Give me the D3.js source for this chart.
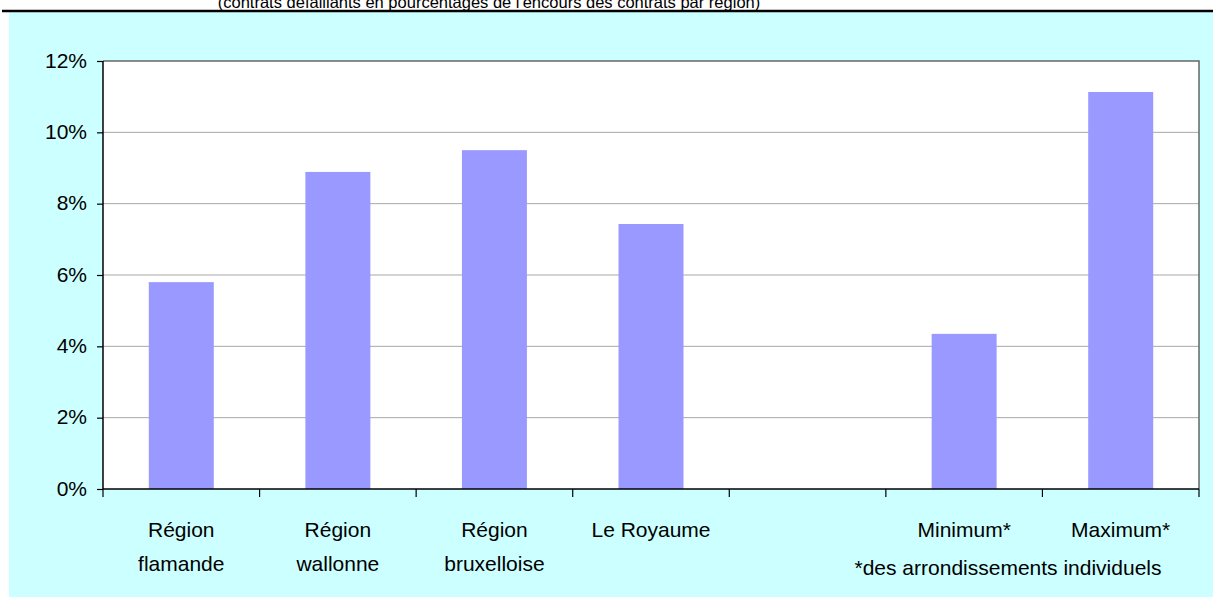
<!DOCTYPE html>
<html>
<head>
<meta charset="utf-8">
<title>Contrats défaillants par région</title>
<style>
body {
	margin: 0;
	background: #ffffff;
}
svg text {
	font-family: "Liberation Sans", Arial, sans-serif;
	fill: #000;
}
</style>
<script src="https://cdn.jsdelivr.net/npm/d3@7"></script>
</head>
<body>
<div id="chart"></div>
<script>
	// données
	var categories = ["flamande", "wallonne", "bruxelloise", "royaume", "vide", "minimum", "maximum"];
	var labelLines = [["Région", "flamande"], ["Région", "wallonne"], ["Région", "bruxelloise"], ["Le Royaume"], [], ["Minimum*"], ["Maximum*"]];
	var values = [5.8, 8.89, 9.5, 7.43, null, 4.35, 11.13];
	var yTicks = [0, 2, 4, 6, 8, 10, 12];

	var title = "(contrats défaillants en pourcentages de l'encours des contrats par région)";
	var footnote = "*des arrondissements individuels";

	var W = 1213, H = 597;
	var plot = {left: 103, right: 1199, top: 61, bottom: 489};

	var svg = d3.select("#chart").append("svg")
		.attr("width", W)
		.attr("height", H);

	// titre coupé en haut
	svg.append("text")
		.attr("x", 489)
		.attr("y", 8)
		.attr("text-anchor", "middle")
		.style("font-size", "16.5px")
		.text(title);

	svg.append("rect")
		.attr("x", 9).attr("y", 12)
		.attr("width", W - 9).attr("height", H - 12)
		.attr("fill", "#ccffff");

	svg.append("line")
		.attr("x1", 2).attr("x2", W)
		.attr("y1", 11).attr("y2", 11)
		.attr("stroke", "#000")
		.attr("stroke-width", 2.5);

	var x = d3.scaleBand()
		.domain(categories)
		.range([plot.left, plot.right])
		.paddingInner(0.585)
		.paddingOuter(0.2925);

	var y = d3.scaleLinear()
		.domain([0, 12])
		.range([plot.bottom, plot.top]);

	svg.append("rect")
		.attr("x", plot.left).attr("y", plot.top)
		.attr("width", plot.right - plot.left)
		.attr("height", plot.bottom - plot.top)
		.attr("fill", "#fff");

	// grille
	svg.selectAll("line.grid")
		.data(yTicks.filter(function (d) { return d > 0 && d < 12; }))
		.enter().append("line")
			.attr("class", "grid")
			.attr("x1", plot.left).attr("x2", plot.right)
			.attr("y1", function (d) { return y(d); })
			.attr("y2", function (d) { return y(d); })
			.attr("stroke", "#a8a8a8")
			.attr("stroke-width", 1);

	// bordure haut / droite
	svg.append("path")
		.attr("d", "M" + plot.left + "," + plot.top + "H" + plot.right + "V" + plot.bottom)
		.attr("fill", "none")
		.attr("stroke", "#666")
		.attr("stroke-width", 1.5);

	// barres
	var data = categories.map(function (c, i) { return {key: c, value: values[i]}; })
		.filter(function (d) { return d.value != null; });

	svg.selectAll("rect.bar")
		.data(data)
		.enter().append("rect")
			.attr("class", "bar")
			.attr("x", function (d) { return x(d.key); })
			.attr("width", x.bandwidth())
			.attr("y", function (d) { return y(d.value); })
			.attr("height", function (d) { return y(0) - y(d.value); })
			.attr("fill", "#9999ff");

	// axe Y
	var yAxis = svg.append("g")
		.attr("transform", "translate(" + plot.left + ",0)")
		.call(d3.axisLeft(y).tickValues(yTicks).tickSize(6).tickPadding(10)
			.tickFormat(function (d) { return d + "%"; }));
	yAxis.select(".domain").attr("stroke", "#000").attr("stroke-width", 1.5)
		.attr("d", "M0," + plot.top + "V" + plot.bottom);
	yAxis.selectAll(".tick line").attr("stroke", "#000").attr("stroke-width", 1.2);
	yAxis.selectAll(".tick text").style("font-size", "21px").attr("dy", "0.3em");

	// axe X : graduations entre les catégories
	var step = x.step();
	var bounds = categories.map(function (c) { return x(c) - step * x.paddingInner() / 2; });
	bounds.push(plot.right);

	svg.append("line")
		.attr("x1", plot.left).attr("x2", plot.right)
		.attr("y1", plot.bottom).attr("y2", plot.bottom)
		.attr("stroke", "#000").attr("stroke-width", 1.5);

	svg.selectAll("line.xtick")
		.data(bounds)
		.enter().append("line")
			.attr("class", "xtick")
			.attr("x1", function (d) { return d; })
			.attr("x2", function (d) { return d; })
			.attr("y1", plot.bottom)
			.attr("y2", plot.bottom + 8)
			.attr("stroke", "#000")
			.attr("stroke-width", 1.2);

	var labels = svg.selectAll("text.xlabel")
		.data(categories)
		.enter().append("text")
			.attr("class", "xlabel")
			.attr("text-anchor", "middle")
			.style("font-size", "21px")
			.attr("x", function (d) { return x(d) + x.bandwidth() / 2; })
			.attr("y", 537);
	labels.selectAll("tspan")
		.data(function (d, i) { return labelLines[i]; })
		.enter().append("tspan")
			.attr("x", function () { var c = d3.select(this.parentNode).datum(); return x(c) + x.bandwidth() / 2; })
			.attr("dy", function (d, i) { return i == 0 ? 0 : 34; })
			.text(function (d) { return d; });

	svg.append("text")
		.attr("x", 1008)
		.attr("y", 575)
		.attr("text-anchor", "middle")
		.style("font-size", "21px")
		.text(footnote);
</script>
</body>
</html>
